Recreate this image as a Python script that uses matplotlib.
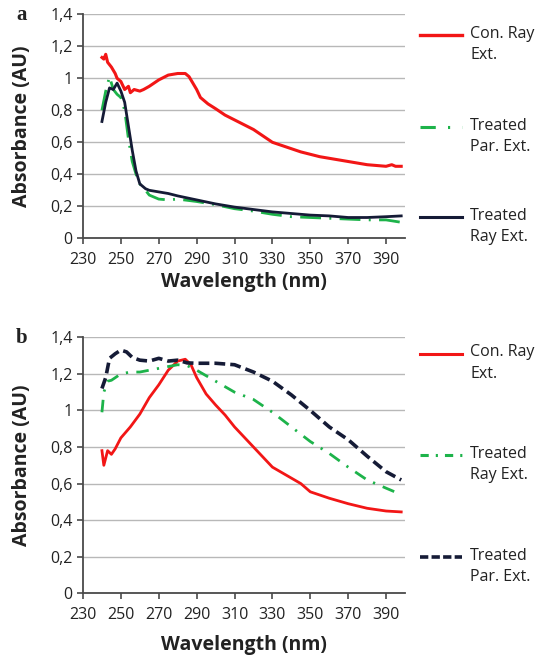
import matplotlib
matplotlib.use("Agg")
import matplotlib.pyplot as plt
from matplotlib.lines import Line2D

# ---------------- data ----------------
# Panel a
a_red_x = [240, 241, 242, 243, 245, 247, 248, 250, 252, 254, 255, 257, 260, 262, 265, 270, 275, 280, 284, 286,
           288, 290, 292, 296, 300, 305, 310, 315, 320, 325, 330, 335, 340, 345, 350, 355, 360, 365, 370, 375,
           380, 385, 390, 393, 395, 398]
a_red_y = [1.13, 1.12, 1.15, 1.10, 1.07, 1.03, 1.00, 0.98, 0.93, 0.95, 0.91, 0.93, 0.92, 0.93, 0.95, 0.99, 1.02, 1.03, 1.03, 1.01,
           0.97, 0.93, 0.88, 0.84, 0.81, 0.77, 0.74, 0.71, 0.68, 0.64, 0.60, 0.58, 0.56, 0.54, 0.525, 0.51, 0.50, 0.49, 0.48, 0.47,
           0.46, 0.455, 0.45, 0.46, 0.45, 0.45]

a_gre_x = [240, 242, 244, 246, 248, 250, 252, 254, 256, 258, 260, 263, 265, 270, 275, 280, 290, 300, 310, 320,
           330, 340, 350, 360, 370, 380, 390, 398]
a_gre_y = [0.80, 0.92, 1.01, 0.93, 0.90, 0.88, 0.80, 0.62, 0.48, 0.40, 0.34, 0.30, 0.27, 0.245, 0.24, 0.245, 0.23, 0.21, 0.185, 0.17,
           0.15, 0.135, 0.13, 0.125, 0.12, 0.115, 0.115, 0.10]

a_nav_x = [240, 242, 244, 246, 248, 250, 252, 254, 256, 258, 260, 263, 265, 270, 275, 280, 290, 300, 310, 320,
           330, 340, 350, 360, 370, 380, 390, 398]
a_nav_y = [0.73, 0.85, 0.94, 0.93, 0.97, 0.92, 0.85, 0.70, 0.55, 0.42, 0.34, 0.31, 0.30, 0.29, 0.28, 0.265, 0.24, 0.215, 0.195, 0.18,
           0.165, 0.155, 0.145, 0.14, 0.13, 0.13, 0.135, 0.14]

# Panel b
b_red_x = [240, 241, 243, 245, 247, 250, 255, 260, 265, 270, 275, 280, 284, 287, 290, 295, 300, 305, 310, 320,
           330, 340, 345, 350, 360, 370, 380, 390, 398]
b_red_y = [0.78, 0.70, 0.78, 0.76, 0.79, 0.85, 0.91, 0.98, 1.07, 1.14, 1.22, 1.27, 1.28, 1.25, 1.18, 1.09, 1.03, 0.975, 0.91, 0.80,
           0.69, 0.63, 0.60, 0.555, 0.52, 0.49, 0.465, 0.45, 0.445]

b_gre_x = [240, 241, 243, 245, 250, 255, 260, 270, 280, 285, 290, 300, 310, 320, 330, 340, 350, 360, 370, 380, 390, 398]
b_gre_y = [0.99, 1.10, 1.16, 1.165, 1.20, 1.21, 1.21, 1.23, 1.25, 1.245, 1.22, 1.16, 1.10, 1.06, 0.99, 0.91, 0.83, 0.765, 0.69, 0.62, 0.575, 0.54]

b_nav_x = [240, 242, 244, 247, 250, 253, 256, 260, 265, 270, 275, 280, 285, 290, 300, 310, 320, 330, 340, 350,
           360, 370, 380, 390, 398]
b_nav_y = [1.12, 1.18, 1.285, 1.31, 1.33, 1.32, 1.29, 1.275, 1.27, 1.285, 1.27, 1.275, 1.26, 1.258, 1.258, 1.25, 1.21, 1.16, 1.085, 1.0,
           0.91, 0.84, 0.75, 0.665, 0.62]

x_ticks = [230, 250, 270, 290, 310, 330, 350, 370, 390]
y_ticks = [0, 0.2, 0.4, 0.6, 0.8, 1.0, 1.2, 1.4]
y_tick_labels = ["0", "0,2", "0,4", "0,6", "0,8", "1", "1,2", "1,4"]

legend_a = ["Con. Ray\nExt.", "Treated\nPar. Ext.", "Treated\nRay Ext."]
legend_b = ["Con. Ray\nExt.", "Treated\nRay Ext.", "Treated\nPar. Ext."]

RED = "#f21616"
GREEN = "#1db34a"
NAVY = "#151b36"

plt.rcParams['font.family'] = ['Open Sans', 'DejaVu Sans']

fig = plt.figure(figsize=(5.44, 6.58), dpi=100)
W, H = 544.0, 658.0

def make_axes(bottom_px, top_px):
    left = 83 / W
    width = (405 - 83) / W
    return fig.add_axes([left, 1 - bottom_px / H, width, (bottom_px - top_px) / H])

def style(ax, bottom_px, top_px, xlab_px):
    ax.set_xlim(230, 400)
    ax.set_ylim(0, 1.4)
    ax.set_xticks(x_ticks)
    ax.set_yticks(y_ticks)
    ax.set_yticklabels(y_tick_labels)
    for s in ["top", "right"]:
        ax.spines[s].set_visible(False)
    for s in ["left", "bottom"]:
        ax.spines[s].set_color("#4a4a4a")
        ax.spines[s].set_linewidth(1.3)
    ax.tick_params(axis="both", direction="out", length=4, width=1.2, color="#4a4a4a",
                   labelsize=11.5, labelcolor="#222222")
    ax.tick_params(axis="x", pad=6)
    ax.yaxis.grid(True, color="#b8b8b8", linewidth=1.0)
    ax.set_axisbelow(True)
    ax.set_xlabel("Wavelength (nm)", fontsize=14, fontweight="bold", color="#222222", va="center")
    ax.set_ylabel("Absorbance (AU)", fontsize=14, fontweight="bold", color="#222222", va="center")
    hpx = bottom_px - top_px
    ax.yaxis.set_label_coords((22 - 83) / 322.0, 0.5)
    ax.xaxis.set_label_coords(0.5, (bottom_px - xlab_px) / hpx)

# ---- panel a ----
axa = make_axes(238.3, 14.3)
style(axa, 238.3, 14.3, 282)
gdash_a = (0, (7.5, 3.0, 0.7, 3.0))
axa.plot(a_red_x, a_red_y, color=RED, lw=2.2)
axa.plot(a_gre_x, a_gre_y, color=GREEN, lw=2.0, linestyle=gdash_a)
axa.plot(a_nav_x, a_nav_y, color=NAVY, lw=2.0)

# ---- panel b ----
axb = make_axes(593.3, 337.3)
style(axb, 593.3, 337.3, 645)
gdash_b = (0, (4.5, 3.0, 0.8, 3.0))
ndash_b = (0, (3.0, 1.4))
axb.plot(b_red_x, b_red_y, color=RED, lw=2.0)
axb.plot(b_gre_x, b_gre_y, color=GREEN, lw=2.0, linestyle=gdash_b)
axb.plot(b_nav_x, b_nav_y, color=NAVY, lw=2.6, linestyle=ndash_b)

# panel labels
fig.text(16 / W, 1 - 15 / H, "a", fontsize=15, fontweight="bold", family="Liberation Serif",
         va="center", ha="left", color="#222222")
fig.text(16 / W, 1 - 338 / H, "b", fontsize=15, fontweight="bold", family="Liberation Serif",
         va="center", ha="left", color="#222222")

# legends (manual, right of each panel)
def legend(entries, ys, styles):
    for lab, y, (c, lw, ls) in zip(entries, ys, styles):
        fig.add_artist(Line2D([420 / W, 462 / W], [1 - y / H, 1 - y / H], color=c, lw=lw,
                              linestyle=ls, transform=fig.transFigure))
        fig.text(470 / W, 1 - (y - 9.5) / H, lab, fontsize=11.5, va="top", ha="left",
                 color="#222222", linespacing=1.45)

legend(legend_a, [35, 127, 217],
       [(RED, 2.4, "-"), (GREEN, 2.2, (0, (5.0, 4.0, 0.7, 4.0))), (NAVY, 2.2, "-")])
legend(legend_b, [354, 455, 557],
       [(RED, 2.2, "-"), (GREEN, 2.2, (0, (2.7, 2.3, 0.7, 2.3))), (NAVY, 2.6, (0, (2.3, 0.9)))])

fig.savefig("out.png", dpi=100)
